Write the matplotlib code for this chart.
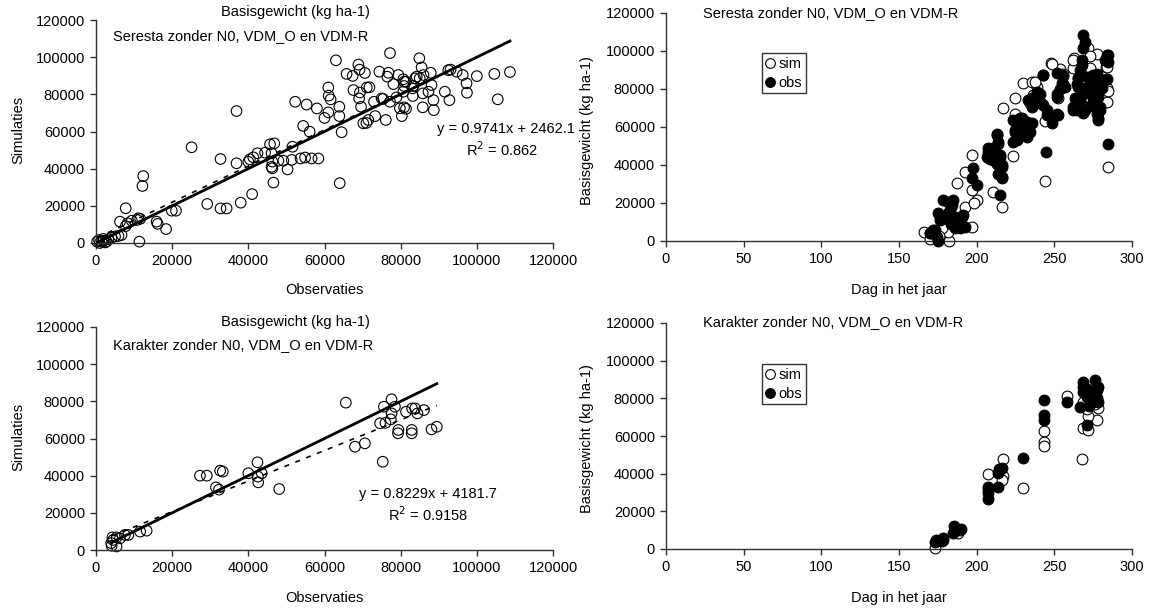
import matplotlib
matplotlib.use("Agg")
import matplotlib.pyplot as plt
from matplotlib.lines import Line2D
from matplotlib.ticker import FuncFormatter
import numpy as np

plt.rcParams['font.family'] = ['Liberation Sans', 'DejaVu Sans']

# ---------------- data ----------------
# Seresta: observed vs simulated (kg ha-1)
sere_obs = [300, 800, 1000, 1500, 1900, 2000, 2400, 2800, 3200, 4100, 5000, 5900, 6700,
            6300, 7800, 7800, 8300, 9400, 10800, 11100, 11600, 11400, 12200, 12400, 15900,
            16200, 18400, 19900, 21000, 25100, 29200, 32700, 34300, 32700, 36900, 36900,
            38000, 41000, 40000, 40400, 41300, 42400, 44400, 45700, 46800, 46100, 46300,
            46100, 46300, 46600, 47900, 49200, 50300, 51400, 51600, 53700, 54900, 56600,
            58400, 54400, 56100, 52300, 55300, 58000, 60000, 61000, 61000, 61100, 61600,
            63000, 63900, 63900, 64500, 64000, 65800, 67400, 68900, 69200, 70600, 67600,
            69300, 71100, 71800, 69100, 69600, 70200, 71000, 71500, 73300, 76100, 73000,
            75000, 75400, 77200, 78900, 79800, 80900, 80300, 81400, 74400, 76800, 76500,
            79400, 77200, 78100, 80700, 80700, 80900, 81400, 80900, 83300, 83100, 83200,
            83800, 84200, 84900, 85500, 85000, 86000, 87900, 85800, 85800, 87300, 88100,
            88600, 88700, 91600, 92800, 92500, 93100, 94700, 96300, 97300, 97400, 100000,
            104600, 105500, 108700]
sere_sim = [700, 1600, 0, 700, 2200, 1200, 300, 800, 2000, 3000, 3500, 3800, 4300,
            11500, 18700, 9100, 10600, 12000, 12400, 13300, 13000, 700, 30700, 36000, 11500,
            10300, 7500, 17400, 17400, 51500, 21000, 18600, 18600, 45200, 71000, 42900,
            21700, 26300, 43700, 45000, 46100, 48300, 48600, 53100, 53600, 48300, 43800,
            41000, 40200, 32500, 44300, 44300, 39600, 44700, 51800, 45500, 46000, 45500,
            45500, 63000, 59900, 76000, 74500, 72400, 67300, 70300, 83700, 79300, 77300,
            98300, 73300, 68300, 59600, 32200, 91000, 89900, 96000, 93300, 91500, 82300,
            81000, 83700, 83800, 77800, 73300, 64400, 64600, 66200, 68300, 66200, 76000,
            77800, 77500, 76000, 78400, 72500, 73000, 68300, 72200, 92200, 91600, 89500,
            90400, 102200, 85500, 81400, 88100, 86800, 86800, 84500, 84500, 83200, 79100,
            88600, 89500, 99400, 94500, 88600, 90400, 91600, 73000, 80500, 81400, 85000,
            76900, 71500, 81400, 76900, 93000, 93300, 92200, 90400, 85900, 80900, 89800,
            91000, 77300, 92000]
sere_slope, sere_intercept, sere_r2 = 0.9741, 2462.1, 0.862

# Karakter: observed vs simulated
kar_obs = [4100, 4000, 5400, 4500, 4300, 5400, 6300, 7600, 8500, 11600, 13300, 27300, 29100,
           32600, 33300, 31500, 32300, 40000, 42400, 43500, 42500, 42600, 48100, 65600, 68000,
           70600, 74600, 76000, 75300, 75600, 77600, 77600, 77400, 78500, 79400, 79300, 81400,
           83000, 82900, 82900, 83800, 84400, 86100, 88100, 89500]
kar_sim = [2300, 3700, 1900, 5400, 6800, 6800, 6300, 8100, 8100, 9900, 10400, 40000, 40000,
           42700, 42200, 33700, 32500, 41300, 47200, 41300, 39500, 36400, 32800, 79300, 55600,
           57400, 68200, 68400, 47500, 77100, 81100, 73500, 70300, 77100, 64600, 62800, 74400,
           76200, 64600, 62800, 76200, 73500, 75300, 64900, 66300]
kar_slope, kar_intercept, kar_r2 = 0.8229, 4181.7, 0.9158

# Seresta: time course (day of year)
sere_sim_day = [166.3, 170, 182.4, 196.8, 192.5, 187.6, 192.5, 196.8, 196.8, 200, 198, 210.3,
                216.1, 223.6, 217.2, 224.7, 224.7, 229.6, 235.4, 238.6, 236.5, 234.4, 243, 244,
                244, 247.7, 253.7, 255.8, 252.6, 262.9, 262.3, 271.9, 277.3, 273, 265.5, 270.8,
                283.3, 283.7, 284.1, 284.8, 268.7, 278.3, 275.1, 181.8, 177.5,
                237.5, 248.3, 255.8, 262.2, 283.7, 284.8, 273, 176, 186]
sere_sim_val = [4900, 1000, 0, 7400, 18000, 30300, 36500, 45200, 26800, 21600, 19900, 25900,
                18000, 44900, 70100, 75400, 66800, 82900, 83800, 81100, 76800, 72400, 71500, 63100,
                31600, 93800, 90500, 86900, 75500, 96100, 90800, 101700, 98200, 90800, 86000, 82500,
                91400, 80700, 72900, 39100, 71200, 86000, 75500, 4900, 6600,
                83600, 93200, 88000, 95000, 91400, 79100, 97500, 2500, 9000]
sere_obs_day = [170, 172.1, 174.3, 175.3, 176.4, 179.6, 181.8, 183.9, 185, 186, 188.2, 190.4,
                192.5, 191.4, 197.9, 196.8, 200, 207.5, 208.6, 210.7, 212.9, 213.9, 215, 216.1,
                216.1, 215, 212.9, 223.6, 224.7, 227.9, 230.1, 234.4, 232.2, 235.4, 238.6, 243,
                240.8, 245.1, 248.3, 244.7, 251.5, 254.7, 256.9, 251.5, 262.3, 263.3, 265.5, 268.7,
                269.8, 268.3, 267.6, 265.5, 273, 276.2, 277.3, 278.3, 280.4, 282.6, 284.8, 283.7,
                279.4, 268.7, 284.8,
                172.9, 169.7, 175.1, 178.3, 181.5, 182.6, 179.4, 176.2, 185.8, 188, 190.1, 185.8,
                183.7, 189.1,
                207.5, 209.6, 212.9, 214, 215, 216.1, 216.1, 212.9, 210.7, 206.4, 214,
                223.6, 224.7, 227.9, 230.1, 233.3, 232.2, 235.4, 225.8, 229,
                233.3, 235.4, 237.5, 240.8, 242.9, 241.9, 245.1, 248.3, 251.5, 253.7, 254.7,
                251.5, 252.6, 255.8,
                262.2, 264.4, 266.5, 268.7, 270.8, 273, 275.1, 276.2, 279.4, 281.5, 283.7, 284.8,
                278.3, 279.4, 277.3, 278.3, 266.5, 267.6, 264.4, 271.9, 275.1, 269.8]
sere_obs_val = [4000, 5800, 2300, 0, 11900, 12800, 14600, 18900, 21600, 11900, 10200, 12800,
                7500, 13600, 38200, 33000, 29500, 47000, 43400, 48700, 55800, 52300, 45200, 40000,
                33000, 24400, 41600, 52300, 58400, 64500, 60100, 57400, 62800, 75000, 78500, 87300,
                73200, 66200, 61900, 47000, 77600, 83000, 81300, 88200, 68900, 75000, 81300, 108400,
                104900, 101400, 92600, 86000, 71300, 77500, 88100, 64500, 80600, 95200, 97800, 85500,
                69000, 67500, 50800,
                5800, 4000, 14600, 21600, 20700, 16300, 12800, 11100, 12800, 11100, 12000, 7000,
                8800, 7000,
                48700, 45900, 56400, 51200, 44200, 38900, 33600, 40600, 42400, 44200, 35400,
                63600, 57500, 60100, 56600, 59200, 54900, 61900, 53100, 64500,
                74100, 70600, 75800, 77600, 87300, 72300, 68800, 65300, 75800, 80200, 87300,
                67000, 66200, 82700,
                70600, 68800, 74100, 77600, 81100, 84600, 87300, 82700, 81100, 84600, 97800, 94300,
                75800, 70600, 67000, 63500, 90100, 95300, 82700, 86400, 75800, 68800]

# Karakter: time course
kar_sim_day = [173.2, 178.6, 188.2, 189.3, 207.5, 216.8, 216.8, 216.1, 229.6, 243.6, 243.6,
               243.6, 258, 267.6, 268.7, 271.9, 277.3, 271.9, 278.3, 276.2, 270.8, 268.7, 275.1]
kar_sim_val = [700, 4800, 8300, 10100, 39800, 47600, 38600, 36800, 32200, 62800, 57000, 54600,
               81200, 47600, 64000, 63100, 68500, 70600, 74700, 77000, 74300, 77800, 81400]
kar_obs_day = [173.2, 173.8, 178.6, 177.5, 185.4, 186.7, 185, 189.9, 207.5, 207.5, 207.5, 207.5,
               214, 214, 216.1, 214.5, 229.6, 243.6, 243.6, 243.6, 258, 268.7, 276.2, 268.7, 270.8,
               277.3, 273, 266.6, 278.3, 270.8, 268.7, 275.1,
               270.8, 273, 275.1, 277.3, 272, 278.3]
kar_obs_val = [3900, 4800, 5700, 4400, 12200, 10100, 8300, 10600, 33100, 29500, 26800, 31300,
               33100, 40200, 42900, 42300, 48100, 79100, 71200, 68500, 78300, 88900, 89800, 86200,
               80900, 84500, 79200, 75300, 78300, 65800, 83600, 78300,
               85000, 82000, 84000, 80000, 76000, 86000]

scatter_title = "Basisgewicht (kg ha-1)"
sere_label = "Seresta zonder N0, VDM_O en VDM-R"
kar_label = "Karakter zonder N0, VDM_O en VDM-R"

# ---------------- figure ----------------
W, H = 1155, 614
fig = plt.figure(figsize=(W / 100, H / 100), dpi=100)


def fx(px):
    return px / W


def fy(py):
    return 1 - py / H


def make_ax(x0, x1, ytop, ybot):
    return fig.add_axes([fx(x0), fy(ybot), fx(x1) - fx(x0), fy(ytop) - fy(ybot)])


FS = 10.5
fmt = FuncFormatter(lambda v, p: f"{int(round(v))}")


def style(ax, xmax, xstep):
    ax.set_ylim(0, 120000)
    ax.set_xlim(0, xmax)
    ax.set_yticks(np.arange(0, 120001, 20000))
    ax.set_xticks(np.arange(0, xmax + 1, xstep))
    ax.xaxis.set_major_formatter(fmt)
    ax.yaxis.set_major_formatter(fmt)
    for s in ['top', 'right']:
        ax.spines[s].set_visible(False)
    for s in ['left', 'bottom']:
        ax.spines[s].set_color('#303030')
        ax.spines[s].set_linewidth(1.0)
    ax.tick_params(direction='out', length=4, width=1.0, color='#303030',
                   labelsize=FS, pad=4)
    ax.patch.set_alpha(0)


ax1 = make_ax(96, 553, 20, 243)
ax2 = make_ax(666, 1132, 13, 241)
ax3 = make_ax(96, 553, 327, 550)
ax4 = make_ax(666, 1132, 323, 549)

for ax in (ax1, ax3):
    style(ax, 120000, 20000)
for ax in (ax2, ax4):
    style(ax, 300, 50)


def scatter_panel(ax, obs, sim, slope, intercept):
    obs = np.asarray(obs, float)
    sim = np.asarray(sim, float)
    ax.scatter(obs, sim, s=58, facecolors='none', edgecolors='black',
               linewidths=0.8, zorder=2, clip_on=False)
    xs = np.array([obs.min(), obs.max()])
    ax.plot(xs, xs, color='black', lw=2.0, zorder=3)
    ax.plot(xs, slope * xs + intercept, color='black', lw=1.2,
            dashes=(3, 4), zorder=3)


scatter_panel(ax1, sere_obs, sere_sim, sere_slope, sere_intercept)
scatter_panel(ax3, kar_obs, kar_sim, kar_slope, kar_intercept)


def time_panel(ax, sd, sv, od, ov):
    ax.scatter(sd, sv, s=60, facecolors='white', edgecolors='black',
               linewidths=0.8, zorder=2, clip_on=False)
    ax.scatter(od, ov, s=60, facecolors='black', edgecolors='black',
               linewidths=0.8, zorder=3, clip_on=False)


time_panel(ax2, sere_sim_day, sere_sim_val, sere_obs_day, sere_obs_val)
time_panel(ax4, kar_sim_day, kar_sim_val, kar_obs_day, kar_obs_val)

# axis labels
for ax, yc in ((ax1, 130), (ax3, 437)):
    ax.set_ylabel("Simulaties", fontsize=FS)
    ax.yaxis.set_label_coords(fx(18), fy(yc), transform=fig.transFigure)
for ax, yc in ((ax2, 131), (ax4, 439)):
    ax.set_ylabel("Basisgewicht (kg ha-1)", fontsize=FS)
    ax.yaxis.set_label_coords(fx(587), fy(yc), transform=fig.transFigure)

for ax, yc in ((ax1, 290), (ax3, 598)):
    ax.set_xlabel("Observaties", fontsize=FS)
    ax.xaxis.set_label_coords(fx(324), fy(yc), transform=fig.transFigure)
for ax, yc in ((ax2, 290), (ax4, 598)):
    ax.set_xlabel("Dag in het jaar", fontsize=FS)
    ax.xaxis.set_label_coords(fx(899), fy(yc), transform=fig.transFigure)
for ax in (ax1, ax2, ax3, ax4):
    ax.xaxis.label.set_verticalalignment('center')
    ax.yaxis.label.set_verticalalignment('center')

# texts
fig.text(fx(295), fy(12), scatter_title, ha='center', va='center', fontsize=FS)
fig.text(fx(113), fy(36), sere_label, ha='left', va='center', fontsize=FS)
fig.text(fx(295), fy(322), scatter_title, ha='center', va='center', fontsize=FS)
fig.text(fx(113), fy(345), kar_label, ha='left', va='center', fontsize=FS)
fig.text(fx(703), fy(13), sere_label, ha='left', va='center', fontsize=FS)
fig.text(fx(703), fy(322), kar_label, ha='left', va='center', fontsize=FS)

fig.text(fx(575), fy(129), f"y = {sere_slope}x + {sere_intercept}", ha='right',
         va='center', fontsize=FS)
fig.text(fx(502), fy(150), f"R$^2$ = {sere_r2}", ha='center', va='center', fontsize=FS)
fig.text(fx(428), fy(494), f"y = {kar_slope}x + {kar_intercept}", ha='center',
         va='center', fontsize=FS)
fig.text(fx(428), fy(515), f"R$^2$ = {kar_r2}", ha='center', va='center', fontsize=FS)

# legends
handles = [Line2D([], [], ls='none', marker='o', markersize=7, markerfacecolor='white',
                  markeredgecolor='black', markeredgewidth=0.8, label='sim'),
           Line2D([], [], ls='none', marker='o', markersize=7, markerfacecolor='black',
                  markeredgecolor='black', markeredgewidth=0.8, label='obs')]
for ax, ytop in ((ax2, 53), (ax4, 364)):
    leg = ax.legend(handles=handles, loc='upper left',
                    bbox_to_anchor=(fx(762), fy(ytop)), bbox_transform=fig.transFigure,
                    borderaxespad=0, fancybox=False, frameon=True, fontsize=FS,
                    handlelength=0.6, handletextpad=0.3, borderpad=0.25,
                    labelspacing=0.35)
    leg.get_frame().set_edgecolor('black')
    leg.get_frame().set_linewidth(1.0)

fig.savefig("out.png", dpi=100)
